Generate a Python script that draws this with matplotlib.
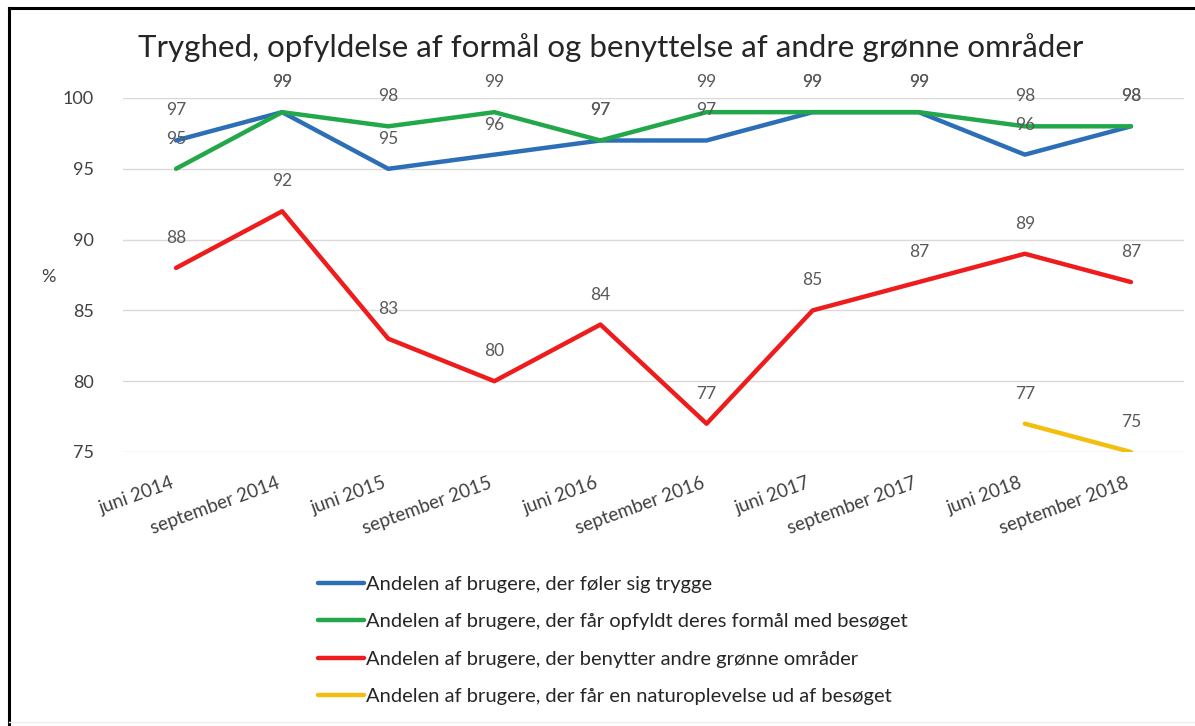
import matplotlib
matplotlib.use("Agg")
import matplotlib.pyplot as plt
from matplotlib.lines import Line2D
import numpy as np

plt.rcParams['font.family'] = ['Lato', 'DejaVu Sans']

categories = ["juni 2014", "september 2014", "juni 2015", "september 2015", "juni 2016",
              "september 2016", "juni 2017", "september 2017", "juni 2018", "september 2018"]
trygge = [97, 99, 95, 96, 97, 97, 99, 99, 96, 98]
formaal = [95, 99, 98, 99, 97, 99, 99, 99, 98, 98]
andre = [88, 92, 83, 80, 84, 77, 85, 87, 89, 87]
natur = [None, None, None, None, None, None, None, None, 77, 75]

series_names = [
    "Andelen af brugere, der føler sig trygge",
    "Andelen af brugere, der får opfyldt deres formål med besøget",
    "Andelen af brugere, der benytter andre grønne områder",
    "Andelen af brugere, der får en naturoplevelse ud af besøget",
]
colors = ["#2c6fb7", "#22a84a", "#ee1c1c", "#f2be10"]
yticks = [75, 80, 85, 90, 95, 100]

fig = plt.figure(figsize=(11.95, 7.26), dpi=100)
ax = fig.add_axes([123/1195, 1-452/726, (1184-123)/1195, (452-98)/726])

x = np.arange(len(categories))
all_series = [trygge, formaal, andre, natur]
for vals, col, name in zip(all_series, colors, series_names):
    xs = [xi for xi, v in zip(x, vals) if v is not None]
    ys = [v for v in vals if v is not None]
    ax.plot(xs, ys, color=col, lw=3.2, label=name, solid_capstyle='round', zorder=3)

for vals in all_series:
    for xi, v in zip(x, vals):
        if v is None:
            continue
        ax.annotate(str(v), (xi, v), xytext=(0, 30), textcoords='offset pixels',
                    ha='center', va='center', fontsize=12.5, color='#595959', zorder=4)

ax.set_xlim(-0.5, len(categories) - 0.5)
ax.set_ylim(75, 100)
ax.set_yticks(yticks)
ax.set_yticklabels([str(t) for t in yticks], fontsize=13, color='#404040')
ax.set_xticks(x)
ax.set_xticklabels(categories, rotation=20, ha='right', va='top', fontsize=13.5, color='#404040',
                   rotation_mode='default')
ax.tick_params(axis='both', length=0)
ax.tick_params(axis='y', pad=21)
ax.tick_params(axis='x', pad=16)
ax.grid(axis='y', color='#d9d9d9', lw=1)
ax.set_axisbelow(True)
for s in ax.spines.values():
    s.set_visible(False)

fig.text(48/1195, 1-277/726, "%", fontsize=13, color='#404040', ha='center', va='center')
fig.text(611/1195, 1-48/726, "Tryghed, opfyldelse af formål og benyttelse af andre grønne områder",
         fontsize=22.5, color='#262626', ha='center', va='center')

handles, labels = ax.get_legend_handles_labels()
fig.legend(handles, labels, loc='upper left', bbox_to_anchor=(300/1195, 1-558/726),
           frameon=False, fontsize=14.5, handlelength=2.3, handletextpad=0.1,
           labelspacing=1.0, labelcolor='#262626')

fig.add_artist(Line2D([9/1195, 9/1195], [0, 1-8/726], color='black', lw=2.2, transform=fig.transFigure))
fig.add_artist(Line2D([9/1195, 1], [1-8/726, 1-8/726], color='black', lw=2.2, transform=fig.transFigure))
fig.add_artist(Line2D([9/1195, 1], [4/726, 4/726], color='#eeeeee', lw=1, transform=fig.transFigure))

fig.savefig("out.png", dpi=100, facecolor='white')
